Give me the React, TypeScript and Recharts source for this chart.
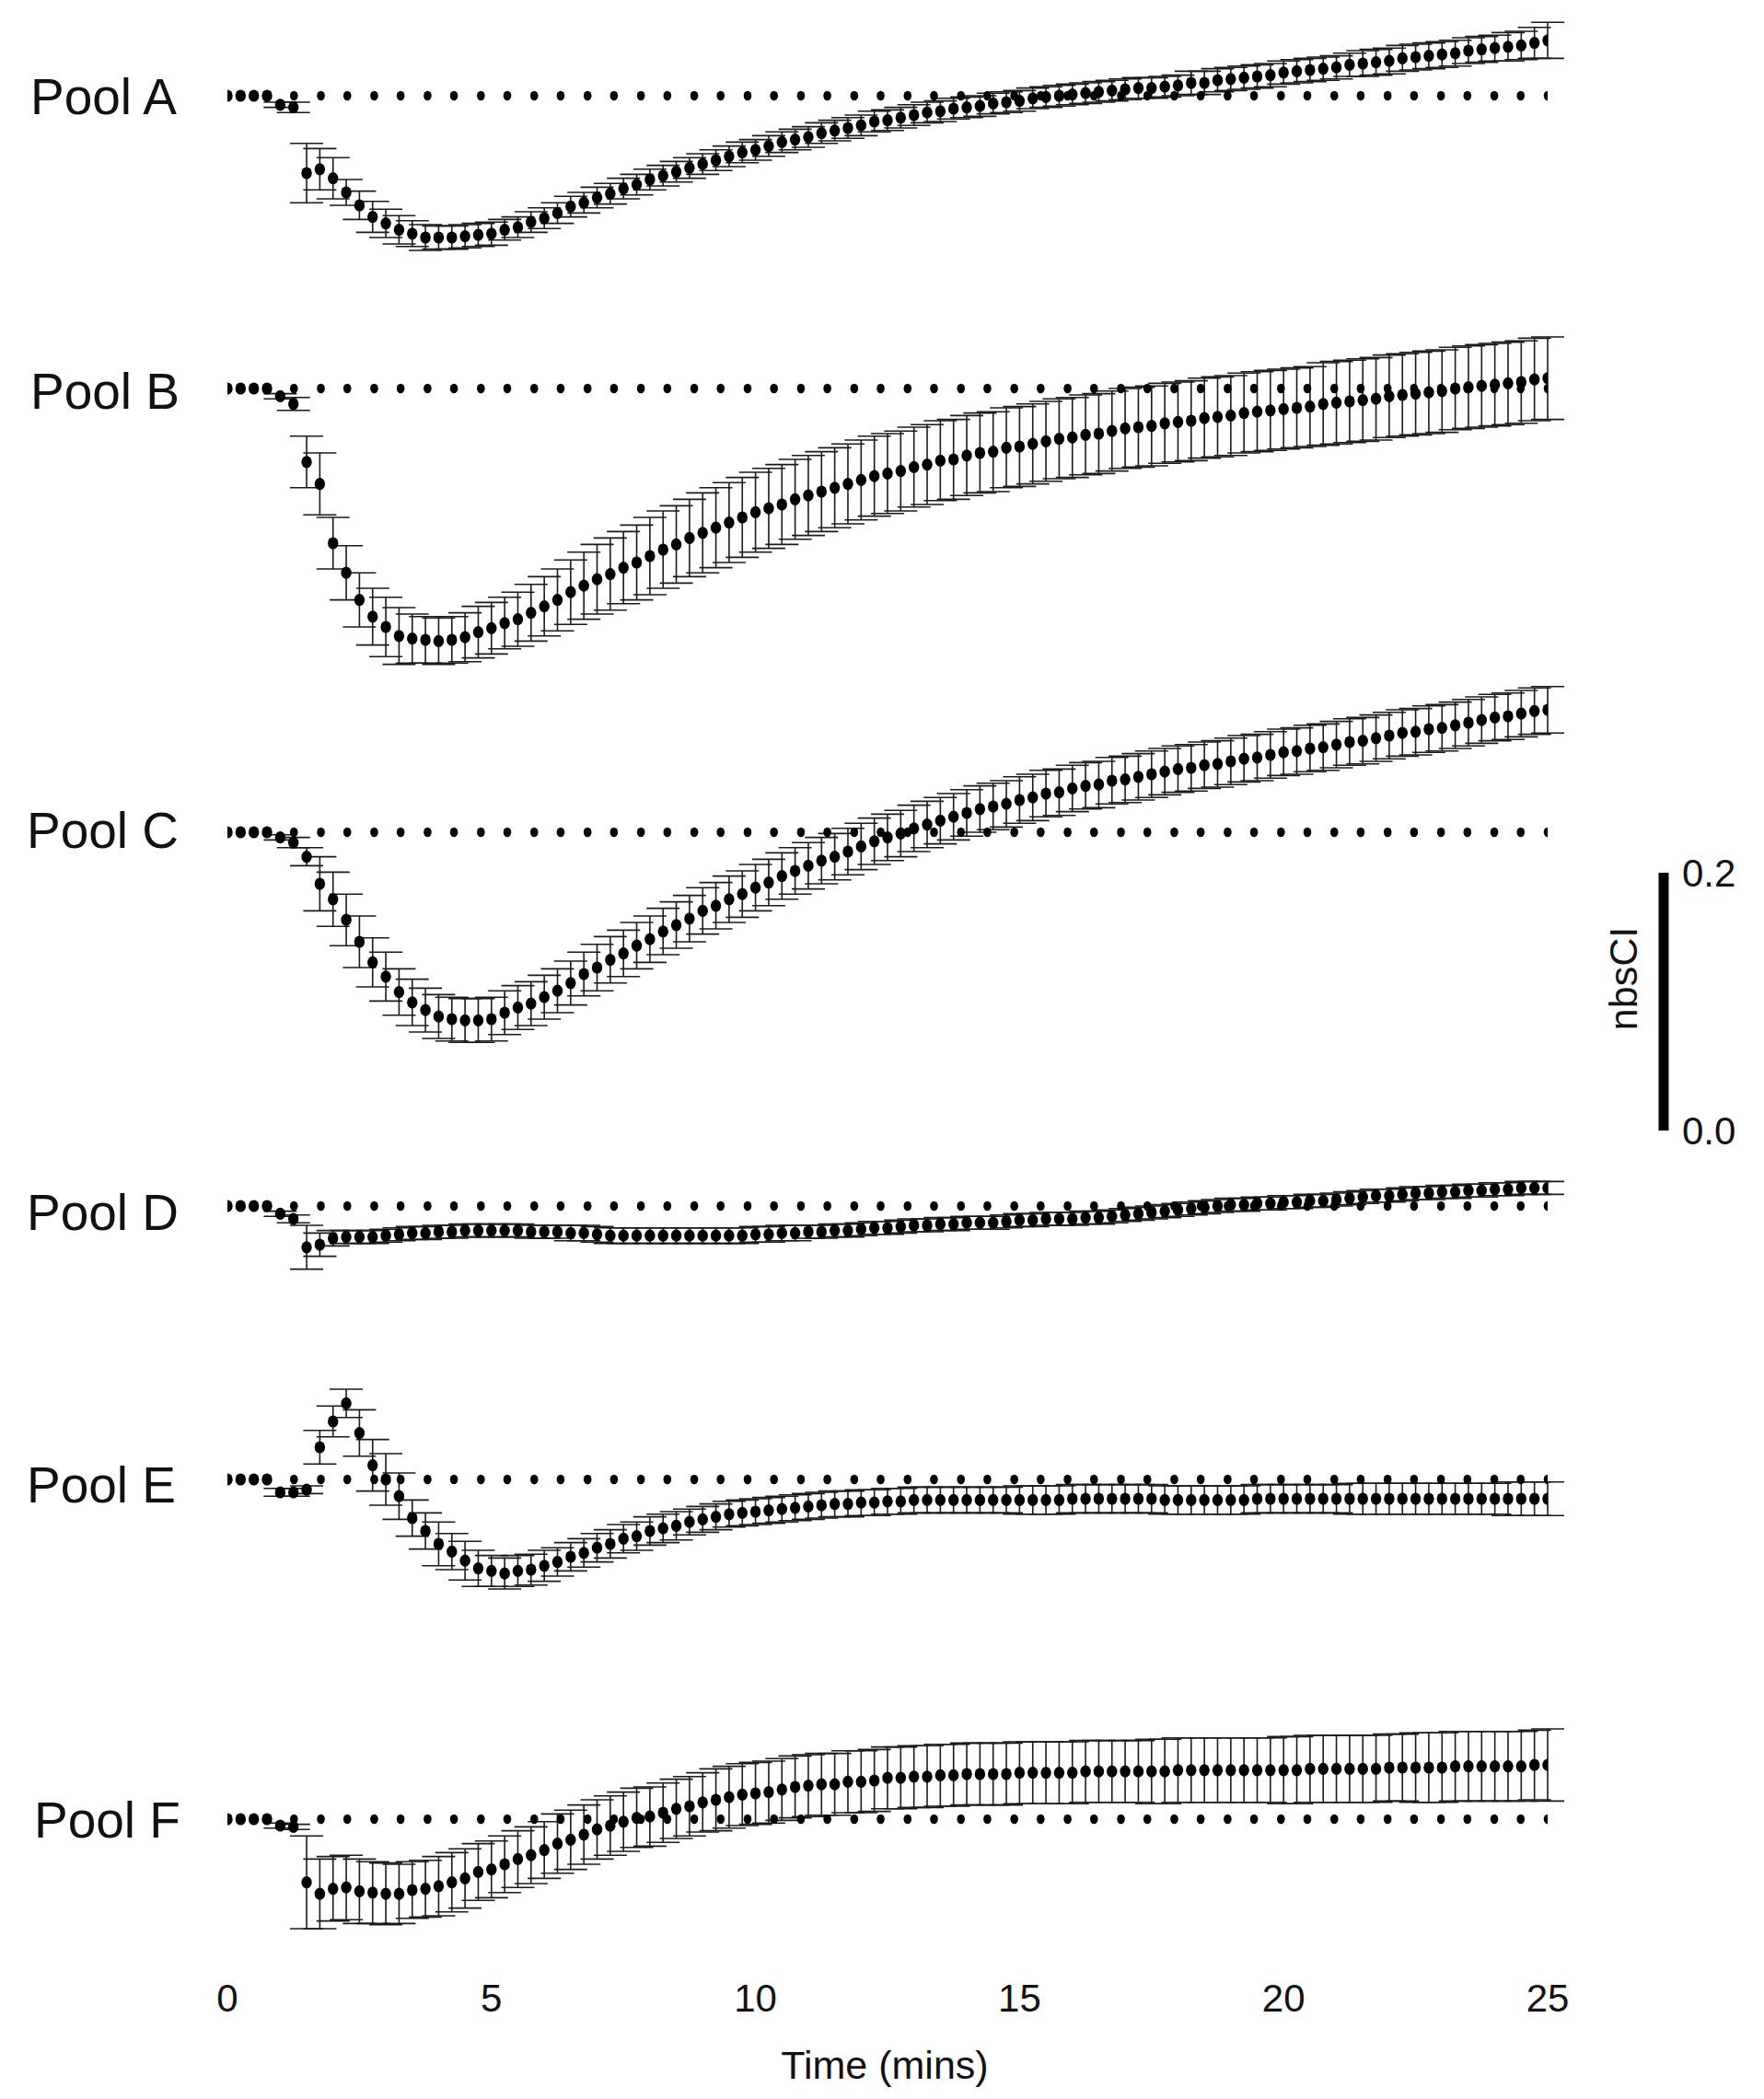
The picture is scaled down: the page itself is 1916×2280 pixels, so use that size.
import React from 'react';
import { ScatterChart, Scatter, XAxis, YAxis, ErrorBar, LineChart, Line } from 'recharts';

// samples every 15 s (0.25 min) from t = 0; values and SEM in units of 0.001 nbsCI,
// relative to each pool's own pre-drug baseline
const poolA = [
  0, 0, 0, 0, -7, -9, -60, -57, -64, -75,
  -85, -94, -99, -104, -107, -110, -110, -110, -109, -108,
  -107, -104, -102, -98, -95, -91, -86, -83, -79, -76,
  -72, -69, -65, -62, -59, -56, -53, -50, -47, -44,
  -42, -39, -36, -34, -32, -29, -27, -25, -23, -20,
  -19, -17, -15, -13, -12, -10, -9, -8, -6, -5,
  -4, -2, -1, 0, 1, 2, 3, 4, 5, 6,
  6, 7, 8, 10, 10, 12, 13, 14, 15, 16,
  18, 19, 20, 21, 22, 24, 25, 26, 27, 29,
  30, 31, 32, 33, 35, 36, 37, 38, 39, 41,
  43,
];
const poolAErr = [
  0, 0, 0, 0, 2, 4, 23, 16, 16, 10,
  11, 12, 11, 11, 10, 10, 9, 9, 9, 9,
  9, 8, 8, 8, 8, 8, 8, 8, 8, 8,
  8, 8, 8, 8, 8, 8, 8, 8, 8, 8,
  8, 8, 8, 8, 8, 8, 8, 8, 8, 8,
  8, 8, 8, 8, 8, 8, 8, 8, 8, 8,
  8, 8, 8, 8, 8, 8, 8, 8, 8, 8,
  8, 8, 8, 9, 9, 9, 9, 9, 9, 9,
  9, 9, 9, 9, 9, 9, 10, 10, 10, 10,
  10, 10, 10, 10, 10, 10, 10, 11, 11, 12,
  14,
];

const poolB = [
  0, 0, 0, 0, -6, -12, -57, -74, -120, -143,
  -164, -177, -185, -192, -194, -195, -196, -195, -193, -189,
  -186, -182, -179, -174, -169, -164, -158, -153, -148, -144,
  -139, -135, -130, -125, -121, -116, -112, -108, -104, -100,
  -96, -93, -90, -86, -83, -80, -77, -74, -71, -68,
  -66, -64, -61, -59, -56, -55, -52, -50, -49, -46,
  -45, -43, -41, -39, -38, -36, -35, -33, -31, -30,
  -29, -27, -26, -25, -23, -22, -21, -19, -18, -17,
  -16, -15, -14, -12, -11, -10, -9, -8, -6, -5,
  -4, -3, -2, 0, 1, 2, 3, 4, 5, 7,
  8,
];
const poolBErr = [
  0, 0, 0, 0, 2, 5, 20, 24, 20, 21,
  21, 22, 23, 22, 19, 18, 18, 18, 19, 20,
  20, 20, 21, 22, 23, 24, 25, 26, 27, 28,
  28, 29, 30, 30, 30, 30, 31, 31, 31, 31,
  31, 31, 31, 31, 31, 31, 31, 31, 31, 31,
  31, 31, 31, 31, 31, 31, 31, 31, 31, 31,
  31, 31, 31, 31, 31, 31, 31, 31, 31, 31,
  31, 31, 31, 31, 31, 31, 31, 31, 31, 31,
  31, 31, 31, 32, 32, 32, 32, 32, 32, 32,
  32, 32, 32, 32, 32, 32, 32, 32, 32, 32,
  32,
];

const poolC = [
  0, 0, 0, 0, -4, -8, -19, -40, -52, -68,
  -85, -101, -112, -124, -132, -138, -143, -145, -146, -146,
  -145, -140, -136, -133, -128, -123, -117, -110, -105, -99,
  -94, -88, -83, -77, -72, -67, -61, -57, -52, -48,
  -43, -39, -34, -30, -26, -22, -19, -15, -11, -7,
  -4, -1, 3, 6, 9, 12, 15, 18, 20, 22,
  25, 27, 30, 31, 34, 36, 37, 40, 41, 43,
  45, 47, 49, 50, 52, 53, 55, 57, 58, 60,
  62, 63, 65, 66, 68, 70, 71, 73, 75, 77,
  78, 80, 81, 83, 85, 87, 89, 90, 92, 94,
  95,
];
const poolCErr = [
  0, 0, 0, 0, 2, 4, 7, 21, 21, 20,
  20, 19, 19, 18, 18, 17, 17, 17, 17, 17,
  17, 17, 17, 17, 17, 17, 17, 17, 18, 18,
  18, 18, 18, 18, 18, 18, 18, 18, 18, 18,
  18, 18, 18, 18, 18, 18, 18, 18, 18, 18,
  18, 18, 18, 18, 18, 18, 18, 18, 18, 18,
  18, 18, 18, 18, 18, 18, 18, 18, 18, 18,
  18, 18, 18, 18, 18, 18, 18, 18, 18, 18,
  18, 18, 18, 18, 18, 18, 18, 18, 18, 18,
  18, 18, 18, 18, 18, 18, 18, 18, 18, 18,
  18,
];

const poolD = [
  0, 0, 0, 0, -6, -10, -32, -30, -25, -24,
  -24, -24, -23, -22, -21, -21, -20, -20, -19, -19,
  -19, -19, -19, -20, -20, -20, -21, -21, -22, -23,
  -23, -23, -23, -23, -23, -23, -23, -23, -23, -23,
  -22, -22, -21, -21, -20, -20, -19, -19, -18, -17,
  -17, -16, -15, -15, -14, -14, -13, -13, -13, -12,
  -11, -11, -10, -10, -10, -9, -9, -8, -7, -6,
  -5, -4, -3, -2, -1, 0, 1, 1, 2, 2,
  3, 3, 4, 4, 5, 6, 7, 8, 8, 9,
  10, 10, 11, 11, 12, 12, 13, 13, 14, 14,
  14,
];
const poolDErr = [
  0, 0, 0, 0, 2, 3, 17, 9, 6, 5,
  5, 5, 5, 5, 5, 5, 5, 5, 5, 5,
  5, 5, 5, 5, 5, 5, 6, 6, 6, 6,
  6, 6, 6, 6, 6, 6, 6, 6, 6, 6,
  6, 6, 6, 6, 5, 5, 5, 5, 5, 5,
  5, 5, 5, 5, 5, 5, 5, 5, 5, 5,
  5, 5, 5, 5, 5, 5, 5, 5, 5, 5,
  5, 5, 5, 5, 5, 5, 5, 5, 5, 5,
  5, 5, 5, 5, 5, 5, 5, 5, 5, 5,
  5, 5, 5, 5, 5, 5, 5, 5, 5, 5,
  5,
];

const poolE = [
  0, 0, 0, 0, -10, -10, -8, 25, 45, 59,
  36, 11, 0, -13, -30, -40, -50, -56, -63, -69,
  -71, -73, -71, -70, -67, -64, -60, -57, -53, -50,
  -46, -44, -40, -38, -36, -33, -31, -29, -27, -26,
  -25, -24, -23, -22, -21, -20, -19, -19, -18, -18,
  -17, -17, -16, -16, -16, -16, -16, -16, -16, -16,
  -16, -16, -16, -16, -15, -15, -15, -15, -15, -15,
  -15, -16, -16, -16, -16, -16, -16, -16, -15, -15,
  -15, -15, -15, -15, -15, -15, -15, -15, -15, -15,
  -15, -15, -15, -15, -15, -15, -15, -15, -15, -15,
  -15,
];
const poolEErr = [
  0, 0, 0, 0, 3, 3, 3, 13, 12, 11,
  18, 20, 20, 18, 14, 14, 17, 14, 15, 14,
  12, 12, 12, 12, 12, 11, 11, 11, 11, 11,
  11, 11, 11, 11, 11, 10, 10, 10, 10, 10,
  10, 10, 10, 10, 10, 10, 10, 10, 10, 10,
  10, 10, 10, 10, 10, 10, 10, 10, 10, 10,
  11, 11, 11, 11, 11, 11, 11, 11, 11, 11,
  11, 11, 11, 11, 11, 11, 11, 11, 11, 11,
  11, 11, 11, 11, 11, 12, 12, 12, 12, 12,
  12, 12, 12, 12, 12, 12, 12, 13, 13, 13,
  13,
];

const poolF = [
  0, 0, 0, 0, -5, -6, -49, -58, -54, -53,
  -56, -57, -58, -58, -55, -54, -52, -49, -46, -41,
  -39, -35, -31, -28, -24, -19, -16, -12, -8, -5,
  -2, 1, 2, 5, 8, 10, 13, 15, 17, 19,
  20, 21, 23, 25, 26, 27, 27, 29, 29, 30,
  32, 32, 33, 33, 34, 34, 35, 35, 35, 35,
  36, 36, 36, 36, 36, 37, 37, 37, 37, 37,
  37, 37, 38, 38, 38, 38, 38, 38, 38, 38,
  38, 38, 39, 39, 39, 39, 39, 39, 40, 40,
  40, 40, 40, 41, 41, 41, 41, 41, 41, 42,
  42,
];
const poolFErr = [
  0, 0, 0, 0, 2, 2, 36, 27, 25, 25,
  25, 24, 24, 23, 22, 22, 23, 23, 23, 22,
  22, 22, 22, 22, 22, 23, 23, 23, 23, 23,
  23, 23, 23, 23, 23, 23, 23, 24, 24, 24,
  24, 24, 24, 24, 24, 24, 24, 24, 24, 24,
  24, 24, 24, 24, 24, 24, 24, 24, 24, 24,
  24, 24, 24, 24, 24, 24, 24, 24, 24, 24,
  25, 25, 25, 25, 25, 25, 25, 25, 25, 25,
  26, 26, 26, 26, 26, 26, 26, 26, 26, 26,
  27, 27, 27, 27, 27, 27, 27, 27, 27, 27,
  28,
];

// control (baseline) trace, level 0, sampled on its own slightly slower clock
const controlTimes = [
  0.25, 0.76, 1.26, 1.77, 2.27, 2.78, 3.28, 3.79, 4.29, 4.8,
  5.3, 5.81, 6.31, 6.82, 7.32, 7.83, 8.33, 8.84, 9.34, 9.85,
  10.35, 10.86, 11.36, 11.87, 12.37, 12.88, 13.38, 13.89, 14.39, 14.9,
  15.4, 15.91, 16.41, 16.92, 17.42, 17.93, 18.43, 18.94, 19.44, 19.95,
  20.45, 20.96, 21.46, 21.97, 22.47, 22.98, 23.48, 23.99, 24.49, 25.0,
];

const timeTicks = [0, 5, 10, 15, 20, 25];
const scaleBarTicks = [0, 0.2];
const SAMPLE_STEP = 0.25;

const FONT = "'Liberation Sans', Arial, Helvetica, sans-serif";
const PX_PER_UNIT = 1400; // vertical pixels per 1.0 nbsCI, shared by every panel
const PLOT_LEFT = 247;
const PLOT_RIGHT = 1681;
const CHART_W = 1760;

const controlPoints = controlTimes.map((t) => ({ t, v: 0 }));

function toPoints(vals: number[], errs: number[]) {
  return vals.map((v, i) => ({
    t: i * SAMPLE_STEP,
    v: v / 1000,
    err: errs[i] ? errs[i] / 1000 : null,
  }));
}

const panels = [
  { name: 'Pool A', vals: poolA, errs: poolAErr, domain: [-0.13, 0.07], baseline: 104, labelMid: 105, labelLeft: 33 },
  { name: 'Pool B', vals: poolB, errs: poolBErr, domain: [-0.225, 0.05], baseline: 421.5, labelMid: 425, labelLeft: 33 },
  { name: 'Pool C', vals: poolC, errs: poolCErr, domain: [-0.175, 0.12], baseline: 904, labelMid: 902, labelLeft: 29 },
  { name: 'Pool D', vals: poolD, errs: poolDErr, domain: [-0.055, 0.025], baseline: 1310, labelMid: 1317, labelLeft: 29 },
  { name: 'Pool E', vals: poolE, errs: poolEErr, domain: [-0.095, 0.08], baseline: 1607, labelMid: 1613, labelLeft: 29 },
  { name: 'Pool F', vals: poolF, errs: poolFErr, domain: [-0.095, 0.08], baseline: 1976, labelMid: 1977, labelLeft: 37 },
];

const ControlDot = (p: any) => <ellipse cx={p.cx} cy={p.cy} rx={4.3} ry={5.3} fill="#000" />;
const DataDot = (p: any) => <ellipse cx={p.cx} cy={p.cy} rx={5.7} ry={6.6} fill="#000" />;

function Panel({ panel, last }: { panel: (typeof panels)[number]; last: boolean }) {
  const [lo, hi] = panel.domain;
  const plotH = (hi - lo) * PX_PER_UNIT;
  const plotTop = panel.baseline - hi * PX_PER_UNIT;
  const top = 20;
  const axisH = last ? 90 : 0;
  const bottom = last ? 0 : 20;
  const height = top + plotH + axisH + bottom;
  return (
    <div style={{ position: 'absolute', left: 0, top: plotTop - top }}>
      <ScatterChart
        width={CHART_W}
        height={height}
        margin={{ top, right: CHART_W - PLOT_RIGHT, bottom, left: PLOT_LEFT }}
      >
        <XAxis
          type="number"
          dataKey="t"
          domain={[0, 25]}
          allowDataOverflow
          ticks={timeTicks}
          interval={0}
          hide={!last}
          height={axisH}
          axisLine={false}
          tickLine={false}
          tickSize={6}
          tickMargin={40}
          tick={{ fontSize: 42, fill: '#111', fontFamily: FONT }}
        />
        <YAxis type="number" dataKey="v" domain={[lo, hi]} allowDataOverflow hide />
        <Scatter data={controlPoints} shape={ControlDot} isAnimationActive={false} />
        <Scatter data={toPoints(panel.vals, panel.errs)} shape={DataDot} isAnimationActive={false}>
          <ErrorBar dataKey="err" direction="y" width={18} stroke="#1a1a1a" strokeWidth={1.6} />
        </Scatter>
      </ScatterChart>
    </div>
  );
}

const scaleBar = scaleBarTicks.map((v) => ({ x: 0, v }));

export default function App() {
  return (
    <div
      style={{
        position: 'absolute',
        left: 0,
        top: 0,
        width: 1916,
        height: 2280,
        overflow: 'hidden',
        background: '#fff',
        fontFamily: FONT,
        color: '#111',
      }}
    >
      {panels.map((p, i) => (
        <React.Fragment key={p.name}>
          <div
            style={{
              position: 'absolute',
              left: p.labelLeft,
              top: p.labelMid + 20 - 0.8465 * 55,
              fontSize: 55,
              lineHeight: '55px',
              whiteSpace: 'nowrap',
            }}
          >
            {p.name}
          </div>
          <Panel panel={p} last={i === panels.length - 1} />
        </React.Fragment>
      ))}

      <div
        style={{
          position: 'absolute',
          left: 761,
          top: 2258 - 0.8465 * 43,
          width: 400,
          textAlign: 'center',
          fontSize: 43,
          lineHeight: '43px',
        }}
      >
        Time (mins)
      </div>

      {/* 0.2 nbsCI scale bar */}
      <div style={{ position: 'absolute', left: 1797, top: 948 - 30 }}>
        <LineChart width={100} height={340} data={scaleBar} margin={{ top: 30, right: 0, bottom: 30, left: 0 }}>
          <XAxis type="number" dataKey="x" domain={[-1, 1]} hide />
          <YAxis
            orientation="right"
            type="number"
            domain={[0, 0.2]}
            allowDataOverflow
            ticks={scaleBarTicks}
            width={80}
            axisLine={false}
            tickLine={false}
            tickMargin={4}
            tickFormatter={(v: number) => v.toFixed(1)}
            tick={{ fontSize: 42, fill: '#111', fontFamily: FONT }}
          />
          <Line type="linear" dataKey="v" stroke="#000" strokeWidth={11} dot={false} isAnimationActive={false} />
        </LineChart>
      </div>
      <div
        style={{
          position: 'absolute',
          left: 1763 - 100,
          top: 1063 - 25,
          width: 200,
          height: 50,
          lineHeight: '50px',
          fontSize: 43,
          textAlign: 'center',
          transform: 'rotate(-90deg)',
        }}
      >
        nbsCI
      </div>
    </div>
  );
}
